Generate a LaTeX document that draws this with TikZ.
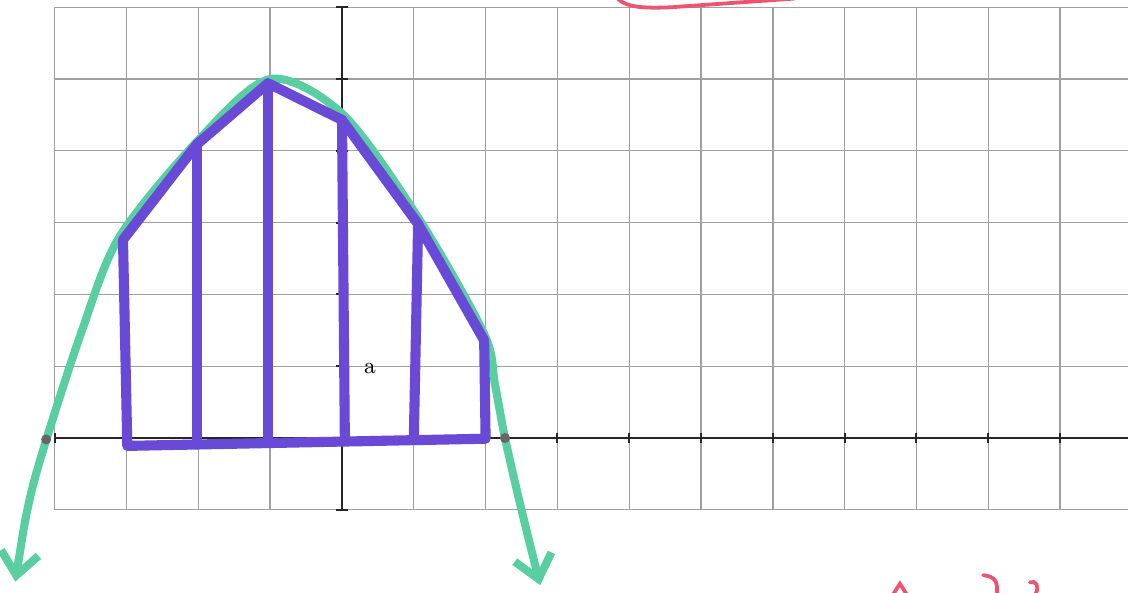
\documentclass[tikz,border=0pt]{standalone}
\usepackage{tikz}
\usetikzlibrary{arrows.meta}
\definecolor{gridgray}{RGB}{160,160,160}
\definecolor{curvegreen}{RGB}{88,206,162}
\definecolor{stripviolet}{RGB}{104,74,214}
\definecolor{penred}{RGB}{238,84,112}
\tikzstyle{gridline} = [draw=gridgray, line width=0.55pt]
\tikzstyle{axis} = [draw=black!85, line width=0.75pt]
\tikzstyle{curve} = [draw=curvegreen, line width=3.2pt, line cap=round,
    {Straight Barb[length=9pt,width=15pt]}-{Straight Barb[length=9pt,width=15pt]}]
\tikzstyle{strip} = [draw=stripviolet, line width=4pt, line cap=round,
    line join=round]
\tikzstyle{pen} = [draw=penred, line width=1.5pt, line cap=round]
\tikzstyle{root} = [circle, fill=black!60, inner sep=0pt, minimum size=4pt]

\begin{document}
\begin{tikzpicture}
    \useasboundingbox (-4.763,-2.145) rectangle (10.947,6.100);
    \clip (-4.763,-2.145) rectangle (10.947,6.100);

    % Grid and axes
    \draw[gridline] (-4,-1) grid (10.947,6);
    \draw[axis] (-4,0) -- (10.947,0);
    \draw[axis] (0,-1) -- (0,6);
    \foreach \i in {-4,...,10}
        \draw[axis] (\i,-0.07) -- (\i,0.07);
    \foreach \j in {-1,...,6}
        \draw[axis] (-0.08,\j) -- (0.08,\j);

    % Parabola, drawn by hand through the strip tops
    \draw[curve] plot[smooth, tension=0.5] coordinates {
        (-4.55,-2.0) (-4.36,-0.9) (-4.12,-0.03) (-3.62,1.5) (-3.1,2.8)
        (-2.0,4.15) (-1.0,5.0) (0.02,4.5) (1.08,3.04) (1.98,1.45)
        (2.13,0.75) (2.27,0) (2.5,-1.0) (2.76,-2.05)};
    \node[root] (lroot) at (-4.12,-0.02) {};
    \node[root] (rroot) at (2.27,0) {};

    % Place strip corners
    \coordinate (t1) at (-3.05,2.76);
    \coordinate (t2) at (-2.02,4.09);
    \coordinate (t3) at (-1.03,4.94);
    \coordinate (t4) at (0,4.43);
    \coordinate (t5) at (1.06,2.98);
    \coordinate (t6) at (1.98,1.36);
    \coordinate (b1) at (-2.99,-0.11);
    \coordinate (b2) at (-2.02,-0.09);
    \coordinate (b3) at (-1.03,-0.07);
    \coordinate (b4) at (0.04,-0.04);
    \coordinate (b5) at (1.0,-0.03);
    \coordinate (b6) at (2.0,-0.01);

    % Draw strips
    \draw[strip] (b1) -- (t1) -- (t2) -- (t3) -- (t4) -- (t5) -- (t6)
        -- (b6) -- (b1);
    \foreach \k in {2,...,5}
        \draw[strip] (b\k) -- (t\k);

    \node[font=\small] (mark) at (0.39,0.97) {a};

    % Red pen marks
    \draw[pen] (3.84,6.12) .. controls (3.95,6.0) and (4.2,5.98) .. (4.6,6.0)
        -- (6.3,6.12);
    \draw[pen] (7.68,-2.17) -- (7.77,-2.03) -- (7.86,-2.17);
    \draw[pen] (8.93,-1.91) .. controls (9.08,-1.93) and (9.14,-1.98) .. (9.12,-2.17);
    \draw[pen] (9.58,-2.01) .. controls (9.66,-1.98) and (9.72,-2.06) .. (9.66,-2.17);
\end{tikzpicture}
\end{document}
